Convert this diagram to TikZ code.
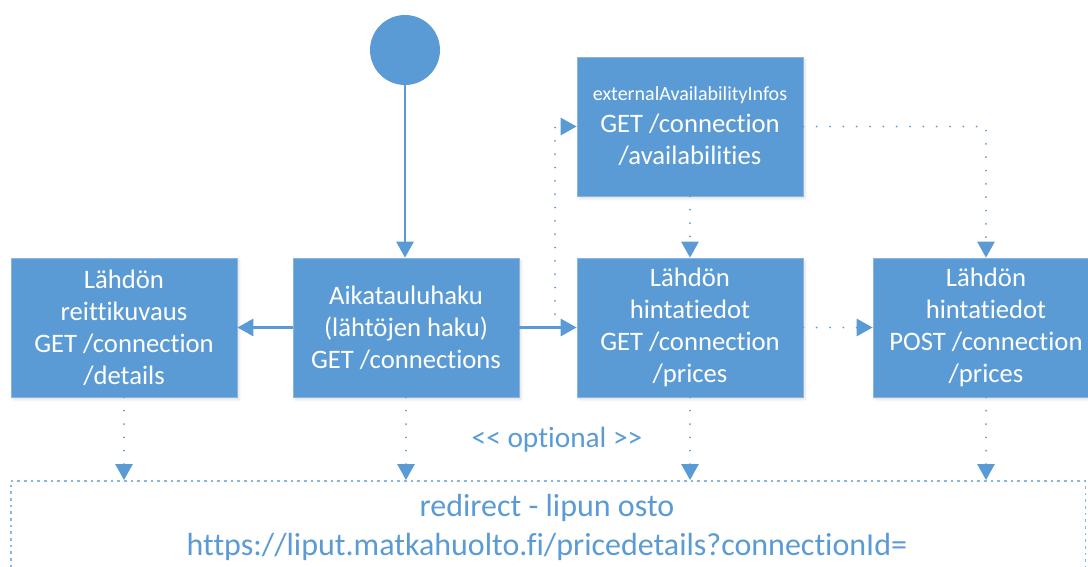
\documentclass[tikz,border=0pt]{standalone}
\usepackage{fontspec}
\setmainfont{Carlito}[Ligatures=NoCommon]
\usetikzlibrary{arrows.meta,shadows.blur,calc}
\definecolor{mblue}{HTML}{5B9BD5}
\definecolor{mborder}{HTML}{8DB3DE}
\definecolor{mdash}{HTML}{8AB6E2}
\tikzset{
  box/.style={rectangle, fill=mblue, draw=mborder, line width=0.6pt,
    minimum width=169.5pt, minimum height=104.25pt, inner sep=2pt,
    text=white, align=center, font=\fontsize{20}{24}\selectfont,
    blur shadow={shadow blur steps=6, shadow xshift=1.5pt, shadow yshift=-2pt, shadow opacity=12}},
  solidarrow/.style={draw=mblue, line width=1.6pt, -{Triangle[width=13pt,length=12pt]}},
  dotarrow/.style={draw=mblue, line width=1.5pt, dash pattern=on 0pt off 10pt, line cap=round,
    -{Triangle[width=13pt,length=12pt]}},
  bluetext/.style={text=mblue, font=\fontsize{24}{30}\selectfont, align=center},
}
\begin{document}
\begin{tikzpicture}[x=0.75pt,y=-0.75pt]
\useasboundingbox (0,0) rectangle (1088,567);
\clip (0,0) rectangle (1088,567);

% start circle
\node[circle, fill=mblue, minimum size=52.5pt, inner sep=0pt] (start) at (405,50) {};

% boxes
\node[box] (details) at (124,327.5) {Lähdön\\reittikuvaus\\GET /connection\\/details};
\node[box] (search) at (406,327.5) {Aikatauluhaku\\(lähtöjen haku)\\GET /connections};
\node[box] (prices) at (690,327.5) {Lähdön\\hintatiedot\\GET /connection\\/prices};
\node[box] (post) at (986,327.5) {Lähdön\\hintatiedot\\POST /connection\\/prices};
\node[box] (ext) at (690,126.5) {{\fontsize{15}{24}\selectfont externalAvailabilityInfos}\\GET /connection\\/availabilities};

% redirect box
\node[draw=mdash, line width=1.2pt, dash pattern=on 2pt off 3pt, rectangle,
  minimum width=806pt, minimum height=80pt, anchor=north west] (redirect) at (10,480) {};
\node[bluetext, anchor=center] (redirtext) at (547,508) {redirect - lipun osto};
\node[bluetext, anchor=center] (url) at (547,547) {https://liput.matkahuolto.fi/pricedetails?connectionId=};
\node[bluetext, font=\fontsize{22}{26}\selectfont] (optional) at (557,440) {{<}{<} optional {>}{>}};

% solid connectors
\draw[solidarrow] (start) -- (search.north -| start);
\draw[solidarrow] (search) -- (details);
\draw[solidarrow] (search) -- (prices);

% dotted connectors
\coordinate (branch) at (555,327.5);
\draw[dotarrow] (branch) |- (ext.west);
\draw[dotarrow] (ext) -- (prices);
\draw[dotarrow] (ext.east) -| (post.north);
\draw[dotarrow] (prices) -- (post);
\draw[dotarrow] (details.south) -- (details.south |- redirect.north);
\draw[dotarrow] (search.south) -- (search.south |- redirect.north);
\draw[dotarrow] (prices.south) -- (prices.south |- redirect.north);
\draw[dotarrow] (post.south) -- (post.south |- redirect.north);
\end{tikzpicture}
\end{document}
